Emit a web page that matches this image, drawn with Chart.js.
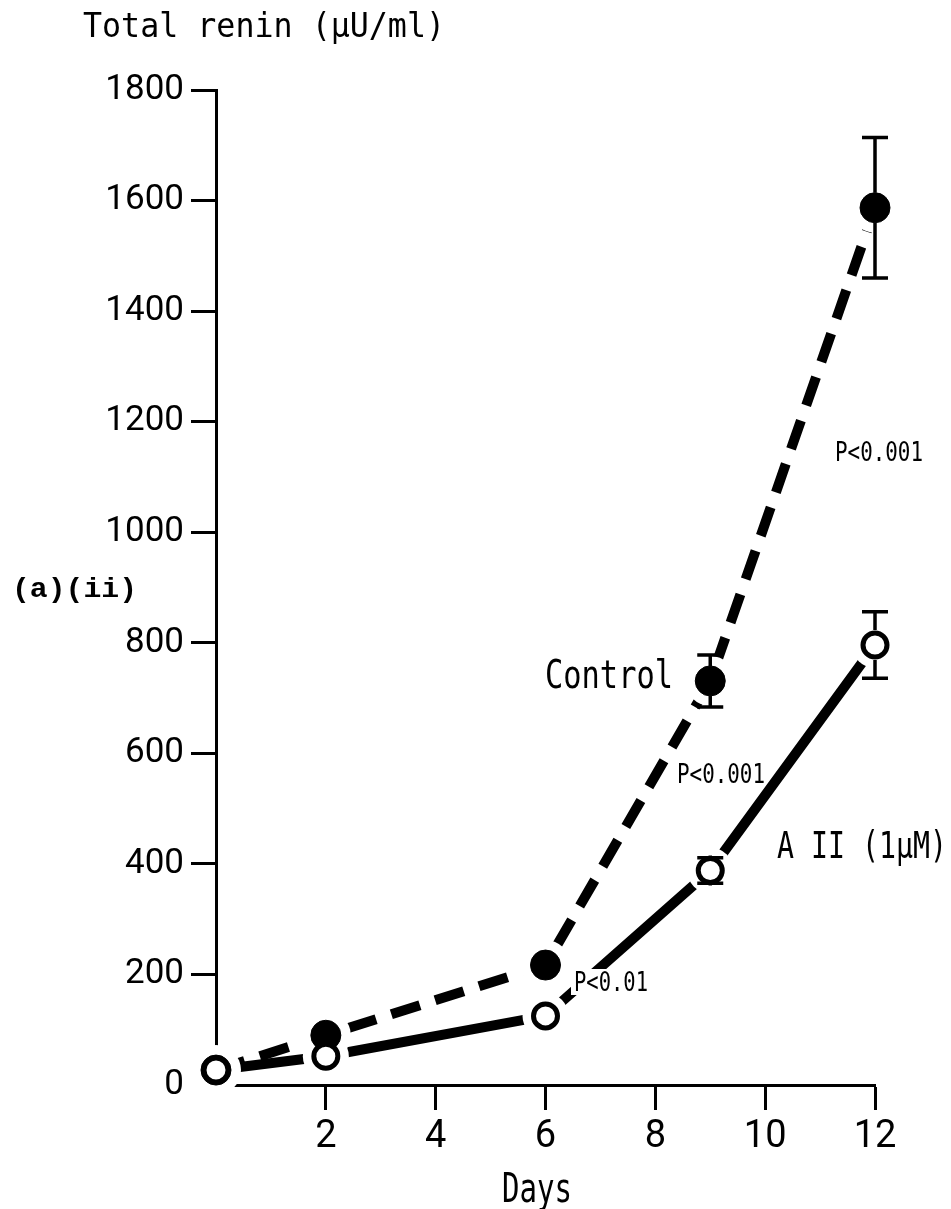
<!DOCTYPE html>
<html>
<head>
<meta charset="utf-8">
<script src="https://cdn.jsdelivr.net/npm/chart.js@4.4.1/dist/chart.umd.min.js"></script>
<style>
  html, body { margin: 0; padding: 0; background: #fff; }
  #wrap { width: 951px; height: 1209px; }
</style>
</head>
<body>
<div id="wrap"><canvas id="c" width="951" height="1209"></canvas></div>
<script>
// Sampling days
const days = [0, 2, 6, 9, 12];

// Total renin (µU/ml), control cultures
const controlMean = [27, 90, 217, 731, 1587];
const controlErr  = [0, 0, 0, 47, 127];

// Total renin (µU/ml), cultures with angiotensin II (1 µM)
const aiiMean = [27, 52, 125, 388, 796];
const aiiErr  = [0, 0, 0, 23, 60];

// Axis ticks
const dayTicks = [2, 4, 6, 8, 10, 12];
const reninTicks = [0, 200, 400, 600, 800, 1000, 1200, 1400, 1600, 1800];

const pts = (xs, ys) => xs.map((x, i) => ({ x: x, y: ys[i] }));

const MONO = '"DejaVu Sans Mono", "Liberation Mono", monospace';

// Draws a text string stretched horizontally to a given width
function drawFitted(ctx, str, font, left, baseline, width, bg) {
  ctx.save();
  ctx.font = font;
  ctx.textBaseline = 'alphabetic';
  ctx.textAlign = 'left';
  const w = ctx.measureText(str).width;
  const s = width / w;
  if (bg) {
    ctx.fillStyle = '#fff';
    ctx.fillRect(left - 3, baseline - 22, width + 6, 26);
  }
  ctx.translate(left, baseline);
  ctx.scale(s, 1);
  ctx.fillStyle = '#000';
  ctx.fillText(str, 0, 0);
  ctx.restore();
}

// Vertical SEM bars with caps, drawn outside the marker circles
const errorBars = {
  id: 'errorBars',
  afterDatasetsDraw(chart) {
    const ctx = chart.ctx;
    const xs = chart.scales.x, ys = chart.scales.y;
    const series = [
      { m: controlMean, e: controlErr, r: 15 },
      { m: aiiMean, e: aiiErr, r: 15 }
    ];
    ctx.save();
    ctx.strokeStyle = '#000';
    ctx.lineWidth = 3.5;
    series.forEach(s => {
      days.forEach((d, i) => {
        if (!s.e[i]) return;
        const px = xs.getPixelForValue(d);
        const pc = ys.getPixelForValue(s.m[i]);
        const pt = ys.getPixelForValue(s.m[i] + s.e[i]);
        const pb = ys.getPixelForValue(s.m[i] - s.e[i]);
        ctx.beginPath();
        ctx.moveTo(px, pc - s.r); ctx.lineTo(px, pt);
        ctx.moveTo(px, pc + s.r); ctx.lineTo(px, pb);
        ctx.moveTo(px - 13, pt); ctx.lineTo(px + 13, pt);
        ctx.moveTo(px - 13, pb); ctx.lineTo(px + 13, pb);
        ctx.stroke();
      });
    });
    ctx.restore();
  }
};

// Axis titles, panel tag, series names and significance notes
const annotations = {
  id: 'annotations',
  afterDraw(chart) {
    const ctx = chart.ctx;
    drawFitted(ctx, 'Total renin (μU/ml)', '33px ' + MONO, 83, 37, 362);
    drawFitted(ctx, '(a)(ii)', 'bold 27px "Liberation Mono", monospace', 12, 597, 125);
    drawFitted(ctx, 'Days', '40px ' + MONO, 502, 1202, 70);
    drawFitted(ctx, 'Control', '39px ' + MONO, 545, 688, 128);
    drawFitted(ctx, 'A II (1μM)', '37px ' + MONO, 777, 858, 170);
    drawFitted(ctx, 'P<0.001', '27px ' + MONO, 835, 461, 88);
    drawFitted(ctx, 'P<0.001', '27px ' + MONO, 677, 783, 88);
    drawFitted(ctx, 'P<0.01', '27px ' + MONO, 574, 991, 74, true);
  }
};

const hideZero = c => (c.tick && c.tick.value === 0) ? 'rgba(0,0,0,0)' : '#000';

new Chart(document.getElementById('c'), {
  type: 'line',
  data: {
    datasets: [
      { label: 'Control', data: pts(days, controlMean), borderColor: '#000', borderWidth: 10,
        borderDash: [30, 16], pointRadius: 0, fill: false, tension: 0, order: 5, clip: false },
      { label: 'A II (1μM)', data: pts(days, aiiMean), borderColor: '#000', borderWidth: 10,
        pointRadius: 0, fill: false, tension: 0, order: 5, clip: false },
      { data: pts(days, controlMean), showLine: false, pointRadius: 25, pointBorderWidth: 0,
        pointBackgroundColor: '#fff', pointBorderColor: '#fff', order: 4, clip: false },
      { data: pts(days, aiiMean), showLine: false, pointRadius: 23, pointBorderWidth: 0,
        pointBackgroundColor: '#fff', pointBorderColor: '#fff', order: 4, clip: false },
      { data: pts(days, controlMean), showLine: false, pointRadius: 15, pointBorderWidth: 1,
        pointBackgroundColor: '#000', pointBorderColor: '#000', order: 2, clip: false },
      { data: pts(days, aiiMean), showLine: false, pointRadius: 12, pointBorderWidth: 5,
        pointBackgroundColor: '#fff', pointBorderColor: '#000', order: 1, clip: false }
    ]
  },
  options: {
    responsive: false,
    animation: false,
    devicePixelRatio: 1,
    layout: { padding: { top: 90, right: 76, bottom: 0, left: 0 } },
    plugins: { legend: { display: false }, tooltip: { enabled: false }, title: { display: false } },
    scales: {
      x: {
        type: 'linear', min: 0, max: 12, z: 1,
        afterFit: s => { s.height = 124; },
        afterBuildTicks: s => { s.ticks = [0].concat(dayTicks).map(v => ({ value: v })); },
        border: { display: true, color: '#000', width: 3 },
        grid: { display: true, drawOnChartArea: false, drawTicks: true, tickLength: 25,
                tickWidth: 3, tickColor: hideZero },
        ticks: { color: '#000', padding: 5, font: { family: 'Roboto', size: 38 },
                 callback: v => v === 0 ? '' : String(v) }
      },
      y: {
        type: 'linear', min: 0, max: 1800, z: 1,
        afterFit: s => { s.width = 216; },
        afterBuildTicks: s => { s.ticks = reninTicks.map(v => ({ value: v })); },
        border: { display: true, color: '#000', width: 3 },
        grid: { display: true, drawOnChartArea: false, drawTicks: true, tickLength: 25,
                tickWidth: 3, tickColor: hideZero },
        ticks: { color: '#000', padding: 7, font: { family: 'Roboto', size: 35 },
                 callback: v => String(v) }
      }
    }
  },
  plugins: [errorBars, annotations]
});
</script>
</body>
</html>
